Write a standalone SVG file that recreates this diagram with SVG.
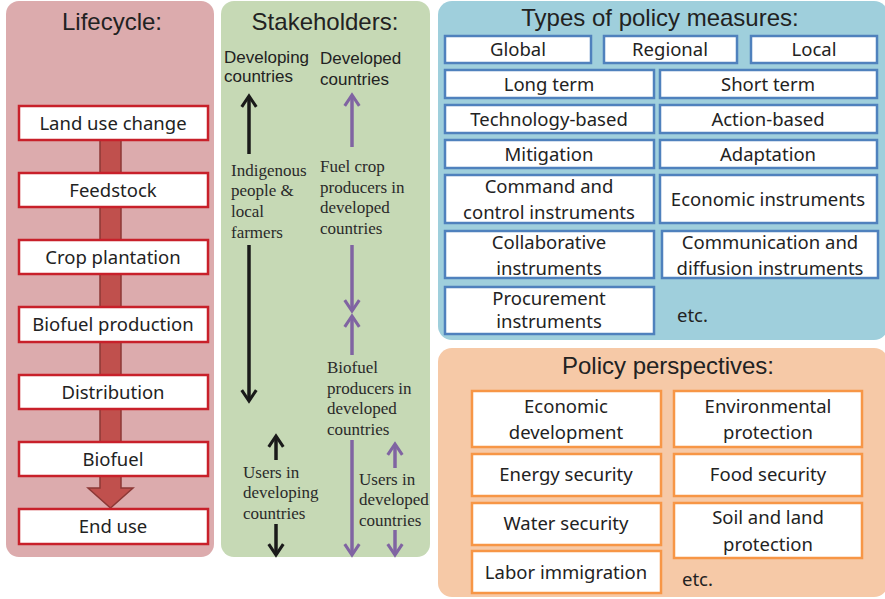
<svg xmlns="http://www.w3.org/2000/svg" width="885" height="599" viewBox="0 0 885 599">
<defs>
<style>
.title{font-family:"Liberation Sans",Arial,sans-serif;font-size:24px;fill:#222;text-anchor:middle}
.bx{font-family:"Noto Sans","Open Sans",sans-serif;font-size:18.5px;fill:#222;text-anchor:middle}
.lc{fill:#fff;stroke:#c8202a;stroke-width:2.5}
.pm{fill:#fff;stroke:#4f81bd;stroke-width:2.5}
.pp{fill:#fff;stroke:#f79646;stroke-width:2.5}
.sh{font-family:"Liberation Sans",Arial,sans-serif;font-size:17px;fill:#222}
.sr{font-family:"Liberation Serif","Times New Roman",serif;font-size:17px;fill:#2a2a2a}
.blk{stroke:#1a1a1a;stroke-width:3.5;fill:none}
.pur{stroke:#8064a2;stroke-width:3.5;fill:none}
</style>
<marker id="ab" viewBox="0 0 10 10" refX="7" refY="5" markerWidth="5.2" markerHeight="5.2" orient="auto-start-reverse" markerUnits="strokeWidth"><path d="M1,1 L7,5 L1,9" fill="none" stroke="#1a1a1a" stroke-width="1.7"/></marker>
<marker id="ap" viewBox="0 0 10 10" refX="7" refY="5" markerWidth="5.2" markerHeight="5.2" orient="auto-start-reverse" markerUnits="strokeWidth"><path d="M1,1 L7,5 L1,9" fill="none" stroke="#8064a2" stroke-width="1.7"/></marker>
</defs>

<g id="lifecycle">
<rect x="6" y="1" width="208" height="556" rx="13" fill="#dcabad"/>
<text class="title" x="112" y="30">Lifecycle:</text>
<path d="M100,140 L121,140 L121,488 L133,488 L110.5,508 L88,488 L100,488 Z" fill="#c0504d" stroke="#8c3836" stroke-width="1.5"/>
<g id="lc1"><rect class="lc" x="19" y="106" width="189" height="34"/><text class="bx" x="113" y="130">Land use change</text></g>
<g id="lc2"><rect class="lc" x="19" y="173" width="189" height="34"/><text class="bx" x="113" y="197">Feedstock</text></g>
<g id="lc3"><rect class="lc" x="19" y="240" width="189" height="34"/><text class="bx" x="113" y="264">Crop plantation</text></g>
<g id="lc4"><rect class="lc" x="19" y="307" width="189" height="35"/><text class="bx" x="113" y="331">Biofuel production</text></g>
<g id="lc5"><rect class="lc" x="19" y="375" width="189" height="34"/><text class="bx" x="113" y="399">Distribution</text></g>
<g id="lc6"><rect class="lc" x="19" y="442" width="189" height="34"/><text class="bx" x="113" y="466">Biofuel</text></g>
<g id="lc7"><rect class="lc" x="19" y="509" width="189" height="35"/><text class="bx" x="113" y="533">End use</text></g>
</g>

<g id="stakeholders">
<rect x="221" y="1" width="209" height="556" rx="13" fill="#c6d9b5"/>
<text class="title" x="325" y="30">Stakeholders:</text>
<text class="sh" x="224" y="63">Developing</text>
<text class="sh" x="224" y="82">countries</text>
<text class="sh" x="320" y="64">Developed</text>
<text class="sh" x="320" y="85">countries</text>
<text class="sr" x="231" y="176">Indigenous</text>
<text class="sr" x="231" y="196">people &amp;</text>
<text class="sr" x="231" y="217">local</text>
<text class="sr" x="231" y="238">farmers</text>
<text class="sr" x="320" y="172">Fuel crop</text>
<text class="sr" x="320" y="193">producers in</text>
<text class="sr" x="320" y="213">developed</text>
<text class="sr" x="320" y="234">countries</text>
<text class="sr" x="327" y="373">Biofuel</text>
<text class="sr" x="327" y="394">producers in</text>
<text class="sr" x="327" y="414">developed</text>
<text class="sr" x="327" y="435">countries</text>
<text class="sr" x="243" y="478">Users in</text>
<text class="sr" x="243" y="498">developing</text>
<text class="sr" x="243" y="519">countries</text>
<text class="sr" x="359" y="485">Users in</text>
<text class="sr" x="359" y="505">developed</text>
<text class="sr" x="359" y="526">countries</text>
</g>

<g id="connectors">
<line class="blk" x1="249" y1="154" x2="249" y2="96" marker-end="url(#ab)"/>
<line class="blk" x1="249" y1="245" x2="249" y2="401" marker-end="url(#ab)"/>
<line class="blk" x1="276" y1="460" x2="276" y2="436" marker-end="url(#ab)"/>
<line class="blk" x1="276" y1="524" x2="276" y2="555" marker-end="url(#ab)"/>
<line class="pur" x1="352" y1="147" x2="352" y2="95" marker-end="url(#ap)"/>
<line class="pur" x1="352" y1="245" x2="352" y2="311" marker-end="url(#ap)"/>
<line class="pur" x1="352" y1="355" x2="352" y2="316" marker-end="url(#ap)"/>
<line class="pur" x1="352" y1="440" x2="352" y2="555" marker-end="url(#ap)"/>
<line class="pur" x1="395" y1="468" x2="395" y2="444" marker-end="url(#ap)"/>
<line class="pur" x1="395" y1="530" x2="395" y2="555" marker-end="url(#ap)"/>
</g>

<g id="policy-measures">
<rect x="438" y="1" width="450" height="339" rx="14" fill="#9fcfdc"/>
<text class="title" x="660" y="26">Types of policy measures:</text>
<g id="pm1"><rect class="pm" x="445" y="36" width="146" height="27"/><text class="bx" x="518" y="56">Global</text></g>
<g id="pm2"><rect class="pm" x="604" y="36" width="133" height="27"/><text class="bx" x="670" y="56">Regional</text></g>
<g id="pm3"><rect class="pm" x="751" y="36" width="126" height="27"/><text class="bx" x="814" y="56">Local</text></g>
<g id="pm4"><rect class="pm" x="445" y="70" width="209" height="28"/><text class="bx" x="549" y="91">Long term</text></g>
<g id="pm5"><rect class="pm" x="660" y="70" width="217" height="28"/><text class="bx" x="768" y="91">Short term</text></g>
<g id="pm6"><rect class="pm" x="445" y="105" width="209" height="28"/><text class="bx" x="549" y="126">Technology-based</text></g>
<g id="pm7"><rect class="pm" x="660" y="105" width="217" height="28"/><text class="bx" x="768" y="126">Action-based</text></g>
<g id="pm8"><rect class="pm" x="445" y="140" width="209" height="28"/><text class="bx" x="549" y="161">Mitigation</text></g>
<g id="pm9"><rect class="pm" x="660" y="140" width="217" height="28"/><text class="bx" x="768" y="161">Adaptation</text></g>
<g id="pm10"><rect class="pm" x="445" y="175" width="209" height="48"/><text class="bx" x="549" y="193">Command and</text><text class="bx" x="549" y="219">control instruments</text></g>
<g id="pm11"><rect class="pm" x="660" y="175" width="217" height="48"/><text class="bx" x="768" y="206">Economic instruments</text></g>
<g id="pm12"><rect class="pm" x="445" y="231" width="209" height="47"/><text class="bx" x="549" y="249">Collaborative</text><text class="bx" x="549" y="275">instruments</text></g>
<g id="pm13"><rect class="pm" x="662" y="231" width="216" height="47"/><text class="bx" x="770" y="249">Communication and</text><text class="bx" x="770" y="275">diffusion instruments</text></g>
<g id="pm14"><rect class="pm" x="445" y="287" width="209" height="47"/><text class="bx" x="549" y="305">Procurement</text><text class="bx" x="549" y="328">instruments</text></g>
<text class="bx" x="677" y="322" style="text-anchor:start">etc.</text>
</g>

<g id="policy-perspectives">
<rect x="438" y="348" width="450" height="249" rx="14" fill="#f6c9a7"/>
<text class="title" x="668" y="374">Policy perspectives:</text>
<g id="pp1"><rect class="pp" x="472" y="391" width="189" height="56"/><text class="bx" x="566" y="413">Economic</text><text class="bx" x="566" y="439">development</text></g>
<g id="pp2"><rect class="pp" x="674" y="391" width="188" height="56"/><text class="bx" x="768" y="413">Environmental</text><text class="bx" x="768" y="439">protection</text></g>
<g id="pp3"><rect class="pp" x="472" y="454" width="189" height="42"/><text class="bx" x="566" y="481">Energy security</text></g>
<g id="pp4"><rect class="pp" x="674" y="454" width="188" height="42"/><text class="bx" x="768" y="481">Food security</text></g>
<g id="pp5"><rect class="pp" x="472" y="503" width="189" height="42"/><text class="bx" x="566" y="530">Water security</text></g>
<g id="pp6"><rect class="pp" x="674" y="503" width="188" height="55"/><text class="bx" x="768" y="524">Soil and land</text><text class="bx" x="768" y="551">protection</text></g>
<g id="pp7"><rect class="pp" x="472" y="551" width="189" height="42"/><text class="bx" x="566" y="579">Labor immigration</text></g>
<text class="bx" x="682" y="586" style="text-anchor:start">etc.</text>
</g>
</svg>
